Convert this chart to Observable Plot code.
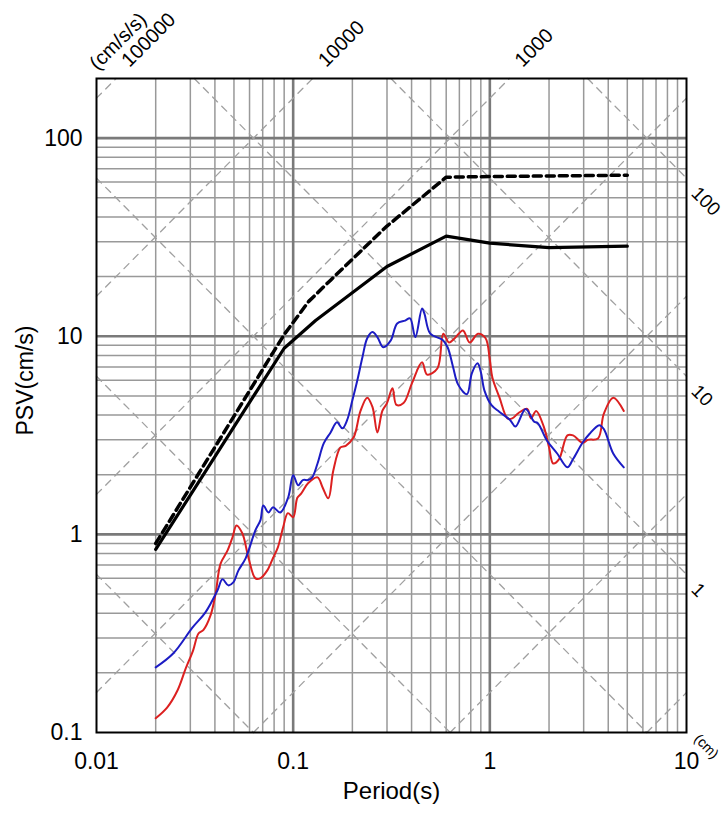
<!DOCTYPE html>
<html><head><meta charset="utf-8">
<script src="https://cdn.jsdelivr.net/npm/d3@7"></script>
<script src="https://cdn.jsdelivr.net/npm/@observablehq/plot@0.6"></script>
<style>
body{margin:0;background:#fff;}
#chart svg{display:block;}
</style>
</head><body><div id="chart"></div>
<script>
// ---- tick values / grid values ----
const xTicks = [0.01, 0.1, 1, 10];
const yTicks = [0.1, 1, 10, 100];
const xMinor = [0.02,0.03,0.04,0.05,0.06,0.07,0.08,0.09,0.2,0.3,0.4,0.5,0.6,0.7,0.8,0.9,2,3,4,5,6,7,8,9];
const xMajor = [0.1, 1];
const yMinor = [0.2,0.3,0.4,0.5,0.6,0.7,0.8,0.9,2,3,4,5,6,7,8,9,20,30,40,50,60,70,80,90];
const yMajor = [1, 10, 100];

// tripartite diagonal levels
const accelLevels = [0.1, 1, 10, 100, 1000, 10000, 100000];   // cm/s/s
const dispLevels = [0.001, 0.01, 0.1, 1, 10, 100];             // cm
const accelLabels = [100000, 10000, 1000];
const dispLabels = [100, 10, 1];

// ---- series ----
const solidT   = [0.02, 0.09, 0.13, 0.3, 0.6, 1.0, 2.0, 5.0];
const solidPSV = [0.84, 8.7, 12.0, 22.5, 32.0, 29.5, 28.0, 28.5];

const dashT   = [0.02, 0.09, 0.12, 0.155, 0.3, 0.6, 1.0, 5.0];
const dashPSV = [0.9, 10.2, 15.0, 19.2, 36.0, 63.5, 64.0, 65.0];

const redT = [0.02,0.0229,0.0258,0.0284,0.031,0.033,0.035,0.038,0.0403,0.0427,0.0464,0.0492,0.0515,0.0552,0.0593,0.0643,0.068,0.074,0.079,0.0836,0.089,0.094,0.1,0.105,0.11,0.119,0.133,0.141,0.151,0.16,0.174,0.185,0.203,0.22,0.238,0.253,0.268,0.284,0.3,0.32,0.335,0.364,0.402,0.452,0.48,0.542,0.58,0.62,0.665,0.73,0.79,0.87,0.95,1.0,1.03,1.12,1.23,1.3,1.4,1.55,1.62,1.72,1.88,2.0,2.1,2.25,2.48,2.65,2.96,3.15,3.55,3.8,4.24,4.8];
const redPSV = [0.118,0.134,0.163,0.21,0.26,0.316,0.33,0.39,0.50,0.71,0.83,0.97,1.11,1.01,0.76,0.60,0.60,0.66,0.76,0.86,1.09,1.28,1.22,1.53,1.61,1.81,1.94,1.73,1.52,2.1,2.75,2.8,3.09,4.2,4.9,4.4,3.27,4.2,4.6,5.46,4.5,4.6,5.8,7.4,6.4,6.9,10.3,9.3,9.8,10.7,9.3,10.3,9.8,7.6,6.2,4.9,3.85,3.85,4.1,4.3,3.85,4.2,3.5,2.75,2.28,2.4,3.16,3.16,2.9,3.0,3.05,4.07,4.9,4.2];

const blueT = [0.02,0.0246,0.0308,0.0358,0.0412,0.0437,0.0468,0.0496,0.0527,0.0573,0.0643,0.0682,0.0705,0.0749,0.079,0.086,0.0944,0.1,0.106,0.112,0.119,0.125,0.133,0.143,0.155,0.167,0.178,0.188,0.2,0.212,0.225,0.238,0.253,0.268,0.287,0.313,0.338,0.371,0.393,0.418,0.452,0.465,0.498,0.574,0.61,0.65,0.69,0.765,0.81,0.866,0.9,0.94,1.02,1.12,1.27,1.35,1.52,1.68,1.75,1.95,2.2,2.48,2.65,2.96,3.2,3.6,3.8,4.24,4.8];
const bluePSV = [0.213,0.251,0.339,0.404,0.521,0.593,0.553,0.572,0.658,0.757,1.05,1.18,1.40,1.29,1.37,1.29,1.54,1.99,1.77,1.88,1.88,1.94,2.28,2.88,3.27,3.68,3.43,3.77,4.75,6.0,7.83,9.78,10.5,9.9,8.8,9.5,11.6,12.0,12.3,9.9,13.8,13.0,10.3,9.6,8.8,7.0,5.7,5.1,6.5,7.3,6.6,5.3,4.49,4.15,3.77,3.5,4.3,3.7,3.65,2.98,2.56,2.18,2.4,2.9,3.2,3.56,3.4,2.56,2.18];

// ---- build tables ----
const zipTable = (T, V) => T.map((t, i) => ({T: t, v: V[i]}));
const solid = zipTable(solidT, solidPSV);
const dashed = zipTable(dashT, dashPSV);
const red = zipTable(redT, redPSV);
const blue = zipTable(blueT, bluePSV);

const X0 = xTicks[0], X1 = xTicks[xTicks.length - 1];
const Y0 = yTicks[0], Y1 = 200;
const TWO_PI = 2 * Math.PI;

// acceleration lines: PSV = A*T/(2π)  (rising)
const diag = [];
accelLevels.forEach(A => {
  const k = A / TWO_PI;
  const t0 = Math.max(X0, Y0 / k), t1 = Math.min(X1, Y1 / k);
  if (t1 > t0) { diag.push({id: "a" + A, T: t0, v: k * t0}); diag.push({id: "a" + A, T: t1, v: k * t1}); }
});
// displacement lines: PSV = 2π D / T  (falling)
dispLevels.forEach(D => {
  const k = TWO_PI * D;
  const t0 = Math.max(X0, k / Y1), t1 = Math.min(X1, k / Y0);
  if (t1 > t0) { diag.push({id: "d" + D, T: t0, v: k / t0}); diag.push({id: "d" + D, T: t1, v: k / t1}); }
});

const accelLab = accelLabels.map(A => ({T: Y1 * TWO_PI / A, v: Y1, label: String(A)}));
const dispLab = dispLabels.map(D => ({T: X1, v: TWO_PI * D / X1, label: String(D)}));

const font = "'Liberation Sans', Arial, Helvetica, sans-serif";

const chart = Plot.plot({
  width: 724,
  height: 813,
  marginLeft: 96,
  marginRight: 38,
  marginTop: 78,
  marginBottom: 81,
  style: {fontFamily: font, background: "#fff", color: "#000"},
  x: {type: "log", domain: [X0, X1]},
  y: {type: "log", domain: [Y0, Y1]},
  marks: [
    Plot.ruleX(xMinor, {stroke: "#999", strokeWidth: 1.5}),
    Plot.ruleY(yMinor, {stroke: "#999", strokeWidth: 1.5}),
    Plot.ruleX(xMajor, {stroke: "#7a7a7a", strokeWidth: 2.6}),
    Plot.ruleY(yMajor, {stroke: "#7a7a7a", strokeWidth: 2.6}),
    Plot.line(diag, {x: "T", y: "v", z: "id", stroke: "#a0a0a0", strokeWidth: 1.3, strokeDasharray: "7,6"}),
    Plot.line(red, {x: "T", y: "v", stroke: "#dc2020", strokeWidth: 2, curve: "catmull-rom"}),
    Plot.line(blue, {x: "T", y: "v", stroke: "#1c1cc4", strokeWidth: 2, curve: "catmull-rom"}),
    Plot.line(dashed, {x: "T", y: "v", stroke: "#000", strokeWidth: 3.5, strokeDasharray: "8,5"}),
    Plot.line(solid, {x: "T", y: "v", stroke: "#000", strokeWidth: 3.2}),
    Plot.frame({stroke: "#000", strokeWidth: 2}),
    Plot.axisX(xTicks, {tickSize: 0, tickPadding: 20, fontSize: 23, tickFormat: d => String(d), label: null}),
    Plot.axisY(yTicks, {tickSize: 0, tickPadding: 14, fontSize: 23, tickFormat: d => String(d), label: null}),
    Plot.text(accelLab, {x: "T", y: "v", text: "label", rotate: -45, textAnchor: "start", dx: 9, dy: -15, fontSize: 20, fill: "#000"}),
    Plot.text([accelLab[0]], {x: "T", y: "v", text: () => "(cm/s/s)", rotate: -45, textAnchor: "start", dx: -23, dy: -12, fontSize: 20, fill: "#000"}),
    Plot.text(dispLab, {x: "T", y: "v", text: "label", rotate: 45, textAnchor: "start", dx: 8, dy: 12, fontSize: 19, fill: "#000"}),
    Plot.text([{T: X1, v: Y0}], {x: "T", y: "v", text: () => "(cm)", rotate: 45, textAnchor: "start", dx: 10, dy: 4, fontSize: 14, fill: "#000"}),
    Plot.text(["Period(s)"], {frameAnchor: "bottom", dy: 66, text: d => d, fontSize: 24, fill: "#000"}),
    Plot.text(["PSV(cm/s)"], {frameAnchor: "left", dx: -71, dy: 30, rotate: -90, text: d => d, fontSize: 23, fill: "#000"})
  ]
});
document.getElementById("chart").appendChild(chart);
</script>
</body></html>
